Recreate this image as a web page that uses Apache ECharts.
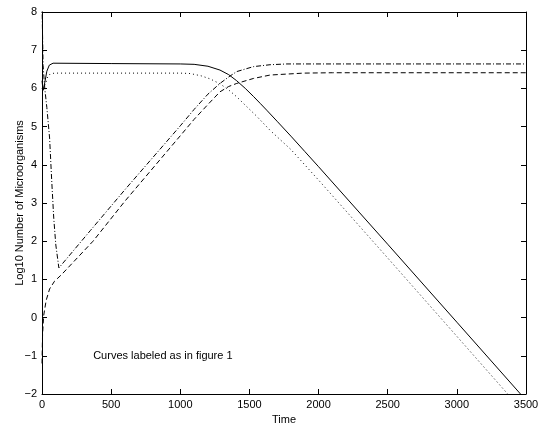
<!DOCTYPE html>
<html>
<head>
<meta charset="utf-8">
<script src="https://cdn.jsdelivr.net/npm/echarts@6/dist/echarts.min.js"></script>
<style>
  html, body { margin: 0; padding: 0; background: #fff; }
  #chart { width: 540px; height: 426px; }
</style>
</head>
<body>
<div id="chart"></div>
<script>
// 曲线数据
const solidT = [0, 8, 20, 35, 53, 80, 500, 1000, 1100, 1200, 1287, 1350, 1408, 1470, 1529, 1580, 1625, 1700, 1800, 1900, 2000, 2500, 3000, 3470];
const solidV = [6.2, 5.95, 6.15, 6.45, 6.61, 6.66, 6.65, 6.64, 6.63, 6.58, 6.48, 6.36, 6.2, 6.0, 5.79, 5.6, 5.43, 5.14, 4.75, 4.35, 3.95, 1.92, -0.12, -2.04];

const dottedT = [0, 10, 25, 40, 60, 90, 1000, 1070, 1150, 1215, 1287, 1350, 1408, 1470, 1550, 1650, 1800, 2000, 2500, 3000, 3380];
const dottedV = [6.0, 5.95, 6.1, 6.3, 6.38, 6.40, 6.40, 6.39, 6.33, 6.25, 6.12, 5.96, 5.78, 5.56, 5.28, 4.9, 4.4, 3.6, 1.56, -0.49, -2.05];

const dashT = [0, 4, 12, 30, 55, 90, 140, 369, 600, 1000, 1100, 1200, 1287, 1350, 1408, 1529, 1650, 1890, 2100, 3500];
const dashV = [-1.2, -0.45, 0.05, 0.45, 0.75, 0.95, 1.12, 2.0, 3.05, 4.76, 5.19, 5.58, 5.91, 6.05, 6.13, 6.26, 6.35, 6.40, 6.41, 6.41];

const dashDotT = [0, 8, 20, 35, 55, 70, 85, 100, 122, 350, 600, 1000, 1100, 1200, 1287, 1350, 1408, 1529, 1650, 1770, 3500];
const dashDotV = [8.2, 6.6, 6.0, 5.5, 4.7, 3.6, 2.6, 1.9, 1.3, 2.28, 3.35, 5.02, 5.45, 5.85, 6.13, 6.3, 6.44, 6.57, 6.62, 6.64, 6.64];

const xTicks = [0, 500, 1000, 1500, 2000, 2500, 3000, 3500];
const yTicks = [-2, -1, 0, 1, 2, 3, 4, 5, 6, 7, 8];

const noteText = 'Curves labeled as in figure 1';
const notePos = [370, -1];

function pairs(ts, vs) {
  return ts.map((t, i) => [t, vs[i]]);
}

const chart = echarts.init(document.getElementById('chart'), null, { renderer: 'canvas' });

const font = 'Liberation Sans, Arial, Helvetica, sans-serif';
const axisBase = {
  type: 'value',
  axisLine: { show: true, onZero: false, lineStyle: { color: '#000', width: 1 } },
  axisTick: { show: true, inside: true, length: 5, lineStyle: { color: '#000' } },
  splitLine: { show: false },
  axisLabel: { color: '#000', fontSize: 11, fontFamily: font }
};

function lineSeries(data, type) {
  return {
    type: 'line',
    data: data,
    showSymbol: false,
    symbol: 'none',
    lineStyle: { color: '#000', width: 1, type: type },
    animation: false
  };
}

const option = {
  backgroundColor: '#fff',
  animation: false,
  grid: { left: 42, right: 14, top: 12, bottom: 32, containLabel: false, outerBoundsMode: 'none' },
  xAxis: [
    Object.assign({}, axisBase, {
      min: xTicks[0], max: xTicks[xTicks.length - 1], interval: 500,
      name: 'Time', nameLocation: 'middle', nameGap: 19,
      nameTextStyle: { color: '#000', fontSize: 11, fontFamily: font },
      axisLabel: Object.assign({}, axisBase.axisLabel, { margin: 5, formatter: v => String(v) })
    }),
    Object.assign({}, axisBase, {
      position: 'top',
      min: xTicks[0], max: xTicks[xTicks.length - 1], interval: 500,
      axisLabel: { show: false }
    })
  ],
  yAxis: [
    Object.assign({}, axisBase, {
      min: yTicks[0], max: yTicks[yTicks.length - 1], interval: 1,
      name: 'Log10 Number of Microorganisms', nameLocation: 'middle', nameGap: 17,
      nameMoveOverlap: false,
      nameTextStyle: { color: '#000', fontSize: 11, fontFamily: font },
      axisLabel: Object.assign({}, axisBase.axisLabel, {
        margin: 5,
        formatter: v => (v < 0 ? '\u2212' + Math.abs(v) : String(v))
      })
    }),
    Object.assign({}, axisBase, {
      position: 'right',
      min: yTicks[0], max: yTicks[yTicks.length - 1], interval: 1,
      axisLabel: { show: false }
    })
  ],
  series: [
    Object.assign(lineSeries(pairs(solidT, solidV), 'solid'), {
      markPoint: {
        symbol: 'circle',
        symbolSize: 0,
        silent: true,
        data: [{ coord: notePos }],
        label: {
          show: true,
          position: 'right',
          distance: 0,
          formatter: noteText,
          color: '#000',
          fontSize: 11,
          fontFamily: font
        }
      }
    }),
    lineSeries(pairs(dottedT, dottedV), [1, 3]),
    lineSeries(pairs(dashT, dashV), [5, 3]),
    lineSeries(pairs(dashDotT, dashDotV), [5, 2, 1, 2])
  ]
};

chart.setOption(option);
</script>
</body>
</html>
